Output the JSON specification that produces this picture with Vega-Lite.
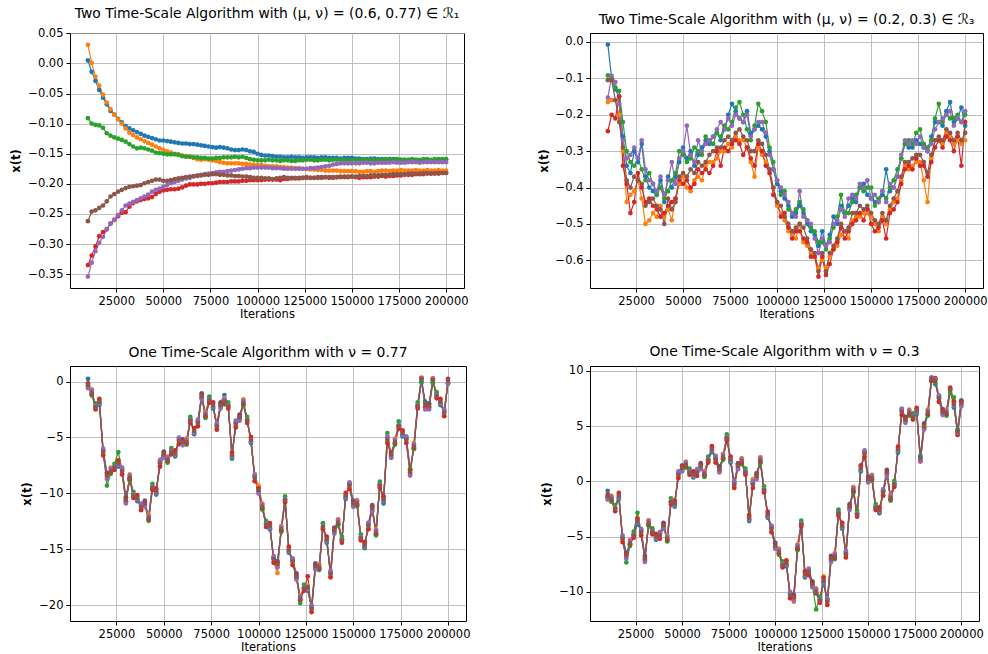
{
"$schema": "https://vega.github.io/schema/vega-lite/v6.json",
"padding": {"left": 10, "top": 6, "right": 2, "bottom": 0},
"bounds": "flush",
"columns": 2,
"spacing": {"row": 78, "column": 124},
"config": {
  "font": "DejaVu Sans",
  "view": {"stroke": "#000", "strokeWidth": 1},
  "axis": {"grid": true, "domain": false, "tickColor": "#000", "tickSize": 4, "labelPadding": 3, "labelFontSize": 11.5, "titleFontSize": 11.5, "labelColor": "#000", "titleColor": "#000", "gridColor": "#b0b0b0", "gridWidth": 0.8, "labelFont": "DejaVu Sans", "titleFont": "DejaVu Sans", "titleFontWeight": "normal", "labelOverlap": false},
  "axisX": {"titlePadding": 2},
  "axisY": {"titleFontWeight": "bold", "titlePadding": 6},
  "title": {"font": "DejaVu Sans", "fontSize": 13.9, "fontWeight": "normal", "color": "#000", "offset": 6}
},
"datasets": {
"tl": [
{"x":10000,"s1":0.005,"s2":0.031,"s3":-0.091,"s4":-0.335,"s5":-0.354,"s6":-0.262},
{"x":12000,"s1":-0.014,"s2":0.001,"s3":-0.100,"s4":-0.319,"s5":-0.331,"s6":-0.246},
{"x":14000,"s1":-0.029,"s2":-0.022,"s3":-0.102,"s4":-0.304,"s5":-0.312,"s6":-0.244},
{"x":16000,"s1":-0.044,"s2":-0.037,"s3":-0.103,"s4":-0.287,"s5":-0.298,"s6":-0.240},
{"x":18000,"s1":-0.057,"s2":-0.052,"s3":-0.107,"s4":-0.280,"s5":-0.288,"s6":-0.236},
{"x":20000,"s1":-0.068,"s2":-0.065,"s3":-0.116,"s4":-0.275,"s5":-0.276,"s6":-0.229},
{"x":22000,"s1":-0.079,"s2":-0.076,"s3":-0.120,"s4":-0.266,"s5":-0.266,"s6":-0.221},
{"x":24000,"s1":-0.085,"s2":-0.085,"s3":-0.123,"s4":-0.260,"s5":-0.260,"s6":-0.217},
{"x":26000,"s1":-0.092,"s2":-0.093,"s3":-0.125,"s4":-0.254,"s5":-0.252,"s6":-0.213},
{"x":28000,"s1":-0.098,"s2":-0.100,"s3":-0.127,"s4":-0.248,"s5":-0.244,"s6":-0.210},
{"x":30000,"s1":-0.104,"s2":-0.108,"s3":-0.130,"s4":-0.247,"s5":-0.236,"s6":-0.207},
{"x":32000,"s1":-0.108,"s2":-0.115,"s3":-0.134,"s4":-0.238,"s5":-0.233,"s6":-0.205},
{"x":34000,"s1":-0.111,"s2":-0.119,"s3":-0.138,"s4":-0.232,"s5":-0.230,"s6":-0.204},
{"x":36000,"s1":-0.114,"s2":-0.123,"s3":-0.141,"s4":-0.229,"s5":-0.227,"s6":-0.203},
{"x":38000,"s1":-0.117,"s2":-0.126,"s3":-0.140,"s4":-0.227,"s5":-0.224,"s6":-0.202},
{"x":40000,"s1":-0.120,"s2":-0.129,"s3":-0.141,"s4":-0.225,"s5":-0.221,"s6":-0.199},
{"x":42000,"s1":-0.122,"s2":-0.132,"s3":-0.143,"s4":-0.224,"s5":-0.218,"s6":-0.197},
{"x":44000,"s1":-0.124,"s2":-0.135,"s3":-0.145,"s4":-0.222,"s5":-0.213,"s6":-0.195},
{"x":46000,"s1":-0.126,"s2":-0.138,"s3":-0.148,"s4":-0.217,"s5":-0.210,"s6":-0.193},
{"x":48000,"s1":-0.128,"s2":-0.141,"s3":-0.149,"s4":-0.213,"s5":-0.208,"s6":-0.193},
{"x":50000,"s1":-0.128,"s2":-0.144,"s3":-0.150,"s4":-0.211,"s5":-0.205,"s6":-0.195},
{"x":52000,"s1":-0.129,"s2":-0.146,"s3":-0.151,"s4":-0.210,"s5":-0.202,"s6":-0.195},
{"x":54000,"s1":-0.130,"s2":-0.148,"s3":-0.151,"s4":-0.209,"s5":-0.199,"s6":-0.194},
{"x":56000,"s1":-0.131,"s2":-0.150,"s3":-0.151,"s4":-0.209,"s5":-0.197,"s6":-0.192},
{"x":58000,"s1":-0.132,"s2":-0.151,"s3":-0.152,"s4":-0.208,"s5":-0.195,"s6":-0.191},
{"x":60000,"s1":-0.133,"s2":-0.153,"s3":-0.154,"s4":-0.206,"s5":-0.193,"s6":-0.190},
{"x":62000,"s1":-0.133,"s2":-0.154,"s3":-0.155,"s4":-0.203,"s5":-0.191,"s6":-0.189},
{"x":64000,"s1":-0.134,"s2":-0.155,"s3":-0.155,"s4":-0.201,"s5":-0.190,"s6":-0.188},
{"x":66000,"s1":-0.134,"s2":-0.157,"s3":-0.156,"s4":-0.201,"s5":-0.188,"s6":-0.187},
{"x":68000,"s1":-0.135,"s2":-0.159,"s3":-0.156,"s4":-0.201,"s5":-0.186,"s6":-0.187},
{"x":70000,"s1":-0.136,"s2":-0.160,"s3":-0.157,"s4":-0.200,"s5":-0.185,"s6":-0.186},
{"x":72000,"s1":-0.137,"s2":-0.159,"s3":-0.157,"s4":-0.200,"s5":-0.184,"s6":-0.185},
{"x":74000,"s1":-0.138,"s2":-0.160,"s3":-0.158,"s4":-0.199,"s5":-0.183,"s6":-0.185},
{"x":76000,"s1":-0.139,"s2":-0.161,"s3":-0.158,"s4":-0.199,"s5":-0.182,"s6":-0.184},
{"x":78000,"s1":-0.140,"s2":-0.162,"s3":-0.157,"s4":-0.198,"s5":-0.181,"s6":-0.184},
{"x":80000,"s1":-0.139,"s2":-0.164,"s3":-0.157,"s4":-0.197,"s5":-0.180,"s6":-0.185},
{"x":82000,"s1":-0.140,"s2":-0.165,"s3":-0.156,"s4":-0.197,"s5":-0.180,"s6":-0.185},
{"x":84000,"s1":-0.141,"s2":-0.166,"s3":-0.156,"s4":-0.197,"s5":-0.179,"s6":-0.186},
{"x":86000,"s1":-0.143,"s2":-0.166,"s3":-0.156,"s4":-0.196,"s5":-0.178,"s6":-0.186},
{"x":88000,"s1":-0.144,"s2":-0.166,"s3":-0.155,"s4":-0.196,"s5":-0.177,"s6":-0.187},
{"x":90000,"s1":-0.144,"s2":-0.166,"s3":-0.156,"s4":-0.196,"s5":-0.176,"s6":-0.187},
{"x":92000,"s1":-0.143,"s2":-0.167,"s3":-0.155,"s4":-0.195,"s5":-0.175,"s6":-0.188},
{"x":94000,"s1":-0.144,"s2":-0.167,"s3":-0.157,"s4":-0.195,"s5":-0.174,"s6":-0.188},
{"x":96000,"s1":-0.146,"s2":-0.168,"s3":-0.159,"s4":-0.194,"s5":-0.174,"s6":-0.189},
{"x":98000,"s1":-0.147,"s2":-0.168,"s3":-0.160,"s4":-0.194,"s5":-0.173,"s6":-0.190},
{"x":100000,"s1":-0.150,"s2":-0.169,"s3":-0.161,"s4":-0.194,"s5":-0.173,"s6":-0.190},
{"x":102000,"s1":-0.152,"s2":-0.169,"s3":-0.161,"s4":-0.194,"s5":-0.173,"s6":-0.190},
{"x":104000,"s1":-0.153,"s2":-0.170,"s3":-0.161,"s4":-0.193,"s5":-0.173,"s6":-0.191},
{"x":106000,"s1":-0.153,"s2":-0.171,"s3":-0.160,"s4":-0.193,"s5":-0.173,"s6":-0.191},
{"x":108000,"s1":-0.154,"s2":-0.171,"s3":-0.161,"s4":-0.193,"s5":-0.174,"s6":-0.192},
{"x":110000,"s1":-0.155,"s2":-0.171,"s3":-0.161,"s4":-0.193,"s5":-0.174,"s6":-0.191},
{"x":112000,"s1":-0.155,"s2":-0.172,"s3":-0.162,"s4":-0.194,"s5":-0.174,"s6":-0.190},
{"x":114000,"s1":-0.156,"s2":-0.172,"s3":-0.161,"s4":-0.192,"s5":-0.175,"s6":-0.189},
{"x":116000,"s1":-0.156,"s2":-0.173,"s3":-0.161,"s4":-0.192,"s5":-0.175,"s6":-0.190},
{"x":118000,"s1":-0.155,"s2":-0.173,"s3":-0.162,"s4":-0.191,"s5":-0.175,"s6":-0.190},
{"x":120000,"s1":-0.156,"s2":-0.174,"s3":-0.162,"s4":-0.191,"s5":-0.175,"s6":-0.190},
{"x":122000,"s1":-0.156,"s2":-0.174,"s3":-0.161,"s4":-0.191,"s5":-0.175,"s6":-0.190},
{"x":124000,"s1":-0.157,"s2":-0.175,"s3":-0.161,"s4":-0.190,"s5":-0.175,"s6":-0.190},
{"x":126000,"s1":-0.156,"s2":-0.175,"s3":-0.160,"s4":-0.190,"s5":-0.175,"s6":-0.189},
{"x":128000,"s1":-0.156,"s2":-0.176,"s3":-0.160,"s4":-0.190,"s5":-0.174,"s6":-0.190},
{"x":130000,"s1":-0.156,"s2":-0.176,"s3":-0.161,"s4":-0.190,"s5":-0.174,"s6":-0.190},
{"x":132000,"s1":-0.157,"s2":-0.177,"s3":-0.161,"s4":-0.190,"s5":-0.173,"s6":-0.189},
{"x":134000,"s1":-0.156,"s2":-0.177,"s3":-0.160,"s4":-0.190,"s5":-0.172,"s6":-0.189},
{"x":136000,"s1":-0.156,"s2":-0.178,"s3":-0.160,"s4":-0.189,"s5":-0.171,"s6":-0.189},
{"x":138000,"s1":-0.157,"s2":-0.178,"s3":-0.161,"s4":-0.190,"s5":-0.170,"s6":-0.189},
{"x":140000,"s1":-0.157,"s2":-0.178,"s3":-0.160,"s4":-0.190,"s5":-0.168,"s6":-0.189},
{"x":142000,"s1":-0.157,"s2":-0.178,"s3":-0.160,"s4":-0.189,"s5":-0.167,"s6":-0.189},
{"x":144000,"s1":-0.158,"s2":-0.179,"s3":-0.160,"s4":-0.189,"s5":-0.166,"s6":-0.188},
{"x":146000,"s1":-0.157,"s2":-0.179,"s3":-0.161,"s4":-0.189,"s5":-0.166,"s6":-0.188},
{"x":148000,"s1":-0.157,"s2":-0.179,"s3":-0.161,"s4":-0.189,"s5":-0.166,"s6":-0.188},
{"x":150000,"s1":-0.157,"s2":-0.179,"s3":-0.160,"s4":-0.188,"s5":-0.166,"s6":-0.188},
{"x":152000,"s1":-0.158,"s2":-0.179,"s3":-0.160,"s4":-0.189,"s5":-0.166,"s6":-0.188},
{"x":154000,"s1":-0.158,"s2":-0.180,"s3":-0.161,"s4":-0.190,"s5":-0.166,"s6":-0.187},
{"x":156000,"s1":-0.159,"s2":-0.180,"s3":-0.160,"s4":-0.189,"s5":-0.165,"s6":-0.187},
{"x":158000,"s1":-0.159,"s2":-0.179,"s3":-0.160,"s4":-0.189,"s5":-0.165,"s6":-0.187},
{"x":160000,"s1":-0.158,"s2":-0.179,"s3":-0.160,"s4":-0.189,"s5":-0.166,"s6":-0.186},
{"x":162000,"s1":-0.158,"s2":-0.180,"s3":-0.161,"s4":-0.188,"s5":-0.166,"s6":-0.186},
{"x":164000,"s1":-0.159,"s2":-0.179,"s3":-0.160,"s4":-0.188,"s5":-0.165,"s6":-0.186},
{"x":166000,"s1":-0.159,"s2":-0.178,"s3":-0.160,"s4":-0.187,"s5":-0.165,"s6":-0.185},
{"x":168000,"s1":-0.160,"s2":-0.178,"s3":-0.159,"s4":-0.188,"s5":-0.165,"s6":-0.185},
{"x":170000,"s1":-0.159,"s2":-0.179,"s3":-0.160,"s4":-0.187,"s5":-0.165,"s6":-0.185},
{"x":172000,"s1":-0.159,"s2":-0.178,"s3":-0.160,"s4":-0.187,"s5":-0.164,"s6":-0.184},
{"x":174000,"s1":-0.159,"s2":-0.178,"s3":-0.159,"s4":-0.186,"s5":-0.165,"s6":-0.184},
{"x":176000,"s1":-0.160,"s2":-0.177,"s3":-0.160,"s4":-0.186,"s5":-0.165,"s6":-0.184},
{"x":178000,"s1":-0.160,"s2":-0.178,"s3":-0.160,"s4":-0.185,"s5":-0.165,"s6":-0.184},
{"x":180000,"s1":-0.160,"s2":-0.178,"s3":-0.160,"s4":-0.185,"s5":-0.164,"s6":-0.183},
{"x":182000,"s1":-0.160,"s2":-0.178,"s3":-0.159,"s4":-0.185,"s5":-0.164,"s6":-0.183},
{"x":184000,"s1":-0.160,"s2":-0.177,"s3":-0.160,"s4":-0.184,"s5":-0.164,"s6":-0.183},
{"x":186000,"s1":-0.161,"s2":-0.178,"s3":-0.160,"s4":-0.184,"s5":-0.165,"s6":-0.183},
{"x":188000,"s1":-0.160,"s2":-0.178,"s3":-0.159,"s4":-0.184,"s5":-0.164,"s6":-0.182},
{"x":190000,"s1":-0.160,"s2":-0.177,"s3":-0.159,"s4":-0.183,"s5":-0.164,"s6":-0.182},
{"x":192000,"s1":-0.161,"s2":-0.178,"s3":-0.160,"s4":-0.183,"s5":-0.164,"s6":-0.183},
{"x":194000,"s1":-0.161,"s2":-0.178,"s3":-0.159,"s4":-0.183,"s5":-0.164,"s6":-0.182},
{"x":196000,"s1":-0.160,"s2":-0.177,"s3":-0.159,"s4":-0.183,"s5":-0.164,"s6":-0.182},
{"x":198000,"s1":-0.160,"s2":-0.178,"s3":-0.159,"s4":-0.182,"s5":-0.164,"s6":-0.182},
{"x":200000,"s1":-0.160,"s2":-0.178,"s3":-0.159,"s4":-0.182,"s5":-0.164,"s6":-0.182}
],
"tr": [
{"x":10000,"s1":-0.007,"s2":-0.165,"s3":-0.092,"s4":-0.245,"s5":-0.153,"s6":-0.105},
{"x":12000,"s1":-0.10,"s2":-0.16,"s3":-0.10,"s4":-0.20,"s5":-0.093,"s6":-0.105},
{"x":14000,"s1":-0.13,"s2":-0.16,"s3":-0.125,"s4":-0.21,"s5":-0.11,"s6":-0.16},
{"x":16000,"s1":-0.15,"s2":-0.20,"s3":-0.135,"s4":-0.15,"s5":-0.17,"s6":-0.22},
{"x":18000,"s1":-0.26,"s2":-0.30,"s3":-0.22,"s4":-0.34,"s5":-0.27,"s6":-0.29},
{"x":20000,"s1":-0.34,"s2":-0.44,"s3":-0.30,"s4":-0.39,"s5":-0.32,"s6":-0.38},
{"x":22000,"s1":-0.36,"s2":-0.42,"s3":-0.33,"s4":-0.47,"s5":-0.31,"s6":-0.40},
{"x":24000,"s1":-0.30,"s2":-0.41,"s3":-0.34,"s4":-0.44,"s5":-0.29,"s6":-0.37},
{"x":26000,"s1":-0.33,"s2":-0.38,"s3":-0.32,"s4":-0.36,"s5":-0.32,"s6":-0.38},
{"x":28000,"s1":-0.28,"s2":-0.43,"s3":-0.35,"s4":-0.40,"s5":-0.27,"s6":-0.39},
{"x":30000,"s1":-0.37,"s2":-0.50,"s3":-0.38,"s4":-0.44,"s5":-0.35,"s6":-0.45},
{"x":32000,"s1":-0.40,"s2":-0.49,"s3":-0.36,"s4":-0.43,"s5":-0.38,"s6":-0.44},
{"x":34000,"s1":-0.41,"s2":-0.47,"s3":-0.39,"s4":-0.45,"s5":-0.39,"s6":-0.43},
{"x":36000,"s1":-0.42,"s2":-0.48,"s3":-0.42,"s4":-0.46,"s5":-0.41,"s6":-0.45},
{"x":38000,"s1":-0.38,"s2":-0.45,"s3":-0.40,"s4":-0.48,"s5":-0.37,"s6":-0.46},
{"x":40000,"s1":-0.44,"s2":-0.48,"s3":-0.43,"s4":-0.47,"s5":-0.42,"s6":-0.50},
{"x":42000,"s1":-0.37,"s2":-0.46,"s3":-0.41,"s4":-0.45,"s5":-0.38,"s6":-0.43},
{"x":44000,"s1":-0.40,"s2":-0.49,"s3":-0.38,"s4":-0.44,"s5":-0.33,"s6":-0.46},
{"x":46000,"s1":-0.37,"s2":-0.43,"s3":-0.36,"s4":-0.43,"s5":-0.39,"s6":-0.44},
{"x":48000,"s1":-0.33,"s2":-0.39,"s3":-0.30,"s4":-0.38,"s5":-0.32,"s6":-0.37},
{"x":50000,"s1":-0.29,"s2":-0.37,"s3":-0.31,"s4":-0.39,"s5":-0.30,"s6":-0.36},
{"x":52000,"s1":-0.32,"s2":-0.40,"s3":-0.33,"s4":-0.38,"s5":-0.23,"s6":-0.37},
{"x":54000,"s1":-0.30,"s2":-0.41,"s3":-0.32,"s4":-0.40,"s5":-0.31,"s6":-0.35},
{"x":56000,"s1":-0.34,"s2":-0.38,"s3":-0.29,"s4":-0.39,"s5":-0.33,"s6":-0.36},
{"x":58000,"s1":-0.31,"s2":-0.37,"s3":-0.30,"s4":-0.35,"s5":-0.27,"s6":-0.33},
{"x":60000,"s1":-0.29,"s2":-0.38,"s3":-0.31,"s4":-0.36,"s5":-0.30,"s6":-0.34},
{"x":62000,"s1":-0.27,"s2":-0.34,"s3":-0.26,"s4":-0.35,"s5":-0.28,"s6":-0.33},
{"x":64000,"s1":-0.28,"s2":-0.33,"s3":-0.27,"s4":-0.36,"s5":-0.27,"s6":-0.31},
{"x":66000,"s1":-0.26,"s2":-0.33,"s3":-0.28,"s4":-0.34,"s5":-0.26,"s6":-0.30},
{"x":68000,"s1":-0.25,"s2":-0.32,"s3":-0.25,"s4":-0.30,"s5":-0.24,"s6":-0.29},
{"x":70000,"s1":-0.27,"s2":-0.30,"s3":-0.26,"s4":-0.34,"s5":-0.22,"s6":-0.29},
{"x":72000,"s1":-0.24,"s2":-0.30,"s3":-0.23,"s4":-0.29,"s5":-0.24,"s6":-0.27},
{"x":74000,"s1":-0.20,"s2":-0.28,"s3":-0.24,"s4":-0.30,"s5":-0.21,"s6":-0.26},
{"x":76000,"s1":-0.17,"s2":-0.29,"s3":-0.22,"s4":-0.28,"s5":-0.23,"s6":-0.27},
{"x":78000,"s1":-0.19,"s2":-0.26,"s3":-0.18,"s4":-0.27,"s5":-0.20,"s6":-0.25},
{"x":80000,"s1":-0.21,"s2":-0.27,"s3":-0.165,"s4":-0.28,"s5":-0.21,"s6":-0.24},
{"x":82000,"s1":-0.22,"s2":-0.27,"s3":-0.20,"s4":-0.31,"s5":-0.22,"s6":-0.26},
{"x":84000,"s1":-0.19,"s2":-0.29,"s3":-0.24,"s4":-0.29,"s5":-0.20,"s6":-0.27},
{"x":86000,"s1":-0.25,"s2":-0.33,"s3":-0.27,"s4":-0.32,"s5":-0.26,"s6":-0.30},
{"x":88000,"s1":-0.24,"s2":-0.37,"s3":-0.23,"s4":-0.34,"s5":-0.24,"s6":-0.30},
{"x":90000,"s1":-0.23,"s2":-0.29,"s3":-0.17,"s4":-0.28,"s5":-0.22,"s6":-0.27},
{"x":92000,"s1":-0.24,"s2":-0.31,"s3":-0.19,"s4":-0.30,"s5":-0.22,"s6":-0.28},
{"x":94000,"s1":-0.26,"s2":-0.33,"s3":-0.22,"s4":-0.34,"s5":-0.25,"s6":-0.31},
{"x":96000,"s1":-0.30,"s2":-0.36,"s3":-0.29,"s4":-0.36,"s5":-0.31,"s6":-0.35},
{"x":98000,"s1":-0.35,"s2":-0.40,"s3":-0.33,"s4":-0.42,"s5":-0.35,"s6":-0.40},
{"x":100000,"s1":-0.39,"s2":-0.45,"s3":-0.38,"s4":-0.44,"s5":-0.38,"s6":-0.44},
{"x":102000,"s1":-0.41,"s2":-0.47,"s3":-0.42,"s4":-0.48,"s5":-0.40,"s6":-0.45},
{"x":104000,"s1":-0.43,"s2":-0.49,"s3":-0.41,"s4":-0.47,"s5":-0.42,"s6":-0.48},
{"x":106000,"s1":-0.45,"s2":-0.52,"s3":-0.46,"s4":-0.51,"s5":-0.44,"s6":-0.50},
{"x":108000,"s1":-0.48,"s2":-0.53,"s3":-0.47,"s4":-0.54,"s5":-0.47,"s6":-0.52},
{"x":110000,"s1":-0.47,"s2":-0.54,"s3":-0.46,"s4":-0.52,"s5":-0.48,"s6":-0.51},
{"x":112000,"s1":-0.45,"s2":-0.50,"s3":-0.44,"s4":-0.52,"s5":-0.41,"s6":-0.50},
{"x":114000,"s1":-0.47,"s2":-0.55,"s3":-0.46,"s4":-0.54,"s5":-0.48,"s6":-0.51},
{"x":116000,"s1":-0.50,"s2":-0.56,"s3":-0.49,"s4":-0.55,"s5":-0.49,"s6":-0.54},
{"x":118000,"s1":-0.52,"s2":-0.58,"s3":-0.51,"s4":-0.59,"s5":-0.50,"s6":-0.57},
{"x":120000,"s1":-0.53,"s2":-0.59,"s3":-0.52,"s4":-0.59,"s5":-0.54,"s6":-0.58},
{"x":122000,"s1":-0.56,"s2":-0.62,"s3":-0.55,"s4":-0.645,"s5":-0.58,"s6":-0.63},
{"x":124000,"s1":-0.52,"s2":-0.60,"s3":-0.55,"s4":-0.59,"s5":-0.54,"s6":-0.58},
{"x":126000,"s1":-0.56,"s2":-0.62,"s3":-0.57,"s4":-0.64,"s5":-0.56,"s6":-0.63},
{"x":128000,"s1":-0.53,"s2":-0.59,"s3":-0.54,"s4":-0.61,"s5":-0.55,"s6":-0.58},
{"x":130000,"s1":-0.48,"s2":-0.57,"s3":-0.51,"s4":-0.57,"s5":-0.50,"s6":-0.56},
{"x":132000,"s1":-0.50,"s2":-0.56,"s3":-0.48,"s4":-0.55,"s5":-0.49,"s6":-0.54},
{"x":134000,"s1":-0.45,"s2":-0.53,"s3":-0.42,"s4":-0.51,"s5":-0.46,"s6":-0.50},
{"x":136000,"s1":-0.47,"s2":-0.52,"s3":-0.47,"s4":-0.54,"s5":-0.48,"s6":-0.52},
{"x":138000,"s1":-0.45,"s2":-0.54,"s3":-0.47,"s4":-0.52,"s5":-0.43,"s6":-0.51},
{"x":140000,"s1":-0.43,"s2":-0.49,"s3":-0.44,"s4":-0.50,"s5":-0.42,"s6":-0.47},
{"x":142000,"s1":-0.44,"s2":-0.48,"s3":-0.42,"s4":-0.49,"s5":-0.43,"s6":-0.47},
{"x":144000,"s1":-0.40,"s2":-0.48,"s3":-0.40,"s4":-0.47,"s5":-0.39,"s6":-0.45},
{"x":146000,"s1":-0.39,"s2":-0.47,"s3":-0.41,"s4":-0.49,"s5":-0.40,"s6":-0.46},
{"x":148000,"s1":-0.42,"s2":-0.47,"s3":-0.40,"s4":-0.46,"s5":-0.38,"s6":-0.45},
{"x":150000,"s1":-0.43,"s2":-0.48,"s3":-0.40,"s4":-0.50,"s5":-0.43,"s6":-0.47},
{"x":152000,"s1":-0.44,"s2":-0.50,"s3":-0.45,"s4":-0.52,"s5":-0.42,"s6":-0.49},
{"x":154000,"s1":-0.44,"s2":-0.52,"s3":-0.43,"s4":-0.51,"s5":-0.44,"s6":-0.50},
{"x":156000,"s1":-0.42,"s2":-0.48,"s3":-0.41,"s4":-0.49,"s5":-0.41,"s6":-0.47},
{"x":158000,"s1":-0.35,"s2":-0.50,"s3":-0.43,"s4":-0.54,"s5":-0.44,"s6":-0.49},
{"x":160000,"s1":-0.41,"s2":-0.46,"s3":-0.40,"s4":-0.47,"s5":-0.39,"s6":-0.45},
{"x":162000,"s1":-0.40,"s2":-0.44,"s3":-0.38,"s4":-0.46,"s5":-0.40,"s6":-0.43},
{"x":164000,"s1":-0.37,"s2":-0.43,"s3":-0.35,"s4":-0.44,"s5":-0.37,"s6":-0.41},
{"x":166000,"s1":-0.32,"s2":-0.38,"s3":-0.32,"s4":-0.39,"s5":-0.31,"s6":-0.37},
{"x":168000,"s1":-0.28,"s2":-0.34,"s3":-0.28,"s4":-0.35,"s5":-0.27,"s6":-0.33},
{"x":170000,"s1":-0.29,"s2":-0.35,"s3":-0.27,"s4":-0.34,"s5":-0.28,"s6":-0.33},
{"x":172000,"s1":-0.29,"s2":-0.34,"s3":-0.28,"s4":-0.35,"s5":-0.27,"s6":-0.32},
{"x":174000,"s1":-0.27,"s2":-0.33,"s3":-0.25,"s4":-0.32,"s5":-0.28,"s6":-0.31},
{"x":176000,"s1":-0.28,"s2":-0.33,"s3":-0.24,"s4":-0.34,"s5":-0.26,"s6":-0.31},
{"x":178000,"s1":-0.29,"s2":-0.38,"s3":-0.28,"s4":-0.34,"s5":-0.29,"s6":-0.33},
{"x":180000,"s1":-0.30,"s2":-0.44,"s3":-0.29,"s4":-0.37,"s5":-0.30,"s6":-0.36},
{"x":182000,"s1":-0.26,"s2":-0.32,"s3":-0.27,"s4":-0.33,"s5":-0.28,"s6":-0.31},
{"x":184000,"s1":-0.22,"s2":-0.27,"s3":-0.21,"s4":-0.29,"s5":-0.24,"s6":-0.27},
{"x":186000,"s1":-0.22,"s2":-0.27,"s3":-0.17,"s4":-0.27,"s5":-0.22,"s6":-0.26},
{"x":188000,"s1":-0.23,"s2":-0.28,"s3":-0.22,"s4":-0.29,"s5":-0.21,"s6":-0.27},
{"x":190000,"s1":-0.19,"s2":-0.25,"s3":-0.20,"s4":-0.26,"s5":-0.20,"s6":-0.24},
{"x":192000,"s1":-0.165,"s2":-0.26,"s3":-0.21,"s4":-0.27,"s5":-0.19,"s6":-0.25},
{"x":194000,"s1":-0.22,"s2":-0.28,"s3":-0.21,"s4":-0.30,"s5":-0.23,"s6":-0.27},
{"x":196000,"s1":-0.21,"s2":-0.27,"s3":-0.20,"s4":-0.26,"s5":-0.21,"s6":-0.25},
{"x":198000,"s1":-0.18,"s2":-0.28,"s3":-0.22,"s4":-0.34,"s5":-0.22,"s6":-0.27},
{"x":200000,"s1":-0.23,"s2":-0.27,"s3":-0.20,"s4":-0.22,"s5":-0.19,"s6":-0.25}
],
"bl": [
{"x":10000,"s1":0.24,"s2":-0.50,"s3":-0.40,"s4":-0.15,"s5":-0.60,"s6":-0.30},
{"x":12000,"s1":-1.15,"s2":-0.70,"s3":-1.25,"s4":-1.10,"s5":-0.80,"s6":-1.0},
{"x":14000,"s1":-2.20,"s2":-2.40,"s3":-1.95,"s4":-2.50,"s5":-2.20,"s6":-2.3},
{"x":16000,"s1":-2.10,"s2":-1.65,"s3":-2.00,"s4":-1.55,"s5":-1.95,"s6":-1.8},
{"x":18000,"s1":-6.10,"s2":-6.55,"s3":-6.20,"s4":-6.60,"s5":-6.00,"s6":-6.3},
{"x":20000,"s1":-8.15,"s2":-8.60,"s3":-9.30,"s4":-8.25,"s5":-8.70,"s6":-8.4},
{"x":22000,"s1":-8.15,"s2":-7.70,"s3":-8.25,"s4":-8.10,"s5":-7.80,"s6":-8.0},
{"x":24000,"s1":-7.60,"s2":-7.80,"s3":-7.35,"s4":-7.90,"s5":-7.60,"s6":-7.7},
{"x":26000,"s1":-7.60,"s2":-7.15,"s3":-6.30,"s4":-7.05,"s5":-7.45,"s6":-7.3},
{"x":28000,"s1":-7.80,"s2":-8.25,"s3":-7.90,"s4":-8.30,"s5":-7.70,"s6":-8.0},
{"x":30000,"s1":-10.35,"s2":-10.80,"s3":-10.70,"s4":-10.45,"s5":-10.90,"s6":-10.6},
{"x":32000,"s1":-8.75,"s2":-8.30,"s3":-8.85,"s4":-8.70,"s5":-8.40,"s6":-8.6},
{"x":34000,"s1":-10.10,"s2":-10.30,"s3":-9.85,"s4":-10.40,"s5":-10.10,"s6":-10.2},
{"x":36000,"s1":-10.70,"s2":-10.25,"s3":-10.60,"s4":-10.15,"s5":-10.55,"s6":-10.4},
{"x":38000,"s1":-11.00,"s2":-11.45,"s3":-11.10,"s4":-11.50,"s5":-10.90,"s6":-11.2},
{"x":40000,"s1":-10.65,"s2":-11.10,"s3":-11.00,"s4":-10.75,"s5":-11.20,"s6":-10.9},
{"x":42000,"s1":-12.35,"s2":-11.90,"s3":-12.45,"s4":-12.30,"s5":-12.00,"s6":-12.2},
{"x":44000,"s1":-9.40,"s2":-9.60,"s3":-9.15,"s4":-9.70,"s5":-9.40,"s6":-9.5},
{"x":46000,"s1":-10.10,"s2":-9.65,"s3":-10.00,"s4":-9.55,"s5":-9.95,"s6":-9.8},
{"x":48000,"s1":-7.10,"s2":-7.55,"s3":-7.20,"s4":-7.60,"s5":-7.00,"s6":-7.3},
{"x":50000,"s1":-6.25,"s2":-6.70,"s3":-6.60,"s4":-6.35,"s5":-6.80,"s6":-6.5},
{"x":52000,"s1":-7.15,"s2":-6.70,"s3":-7.25,"s4":-7.10,"s5":-6.80,"s6":-7.0},
{"x":54000,"s1":-6.20,"s2":-6.40,"s3":-5.95,"s4":-6.50,"s5":-6.20,"s6":-6.3},
{"x":56000,"s1":-6.70,"s2":-6.25,"s3":-6.60,"s4":-6.15,"s5":-6.55,"s6":-6.4},
{"x":58000,"s1":-5.10,"s2":-5.55,"s3":-5.20,"s4":-5.60,"s5":-5.00,"s6":-5.3},
{"x":60000,"s1":-5.15,"s2":-5.60,"s3":-5.50,"s4":-5.25,"s5":-5.70,"s6":-5.4},
{"x":62000,"s1":-5.55,"s2":-5.10,"s3":-5.65,"s4":-5.50,"s5":-5.20,"s6":-5.4},
{"x":64000,"s1":-3.40,"s2":-3.60,"s3":-3.15,"s4":-3.70,"s5":-3.40,"s6":-3.5},
{"x":66000,"s1":-4.70,"s2":-4.25,"s3":-4.60,"s4":-4.15,"s5":-4.55,"s6":-4.4},
{"x":68000,"s1":-3.50,"s2":-3.95,"s3":-3.60,"s4":-4.00,"s5":-3.40,"s6":-3.7},
{"x":70000,"s1":-1.05,"s2":-1.50,"s3":-1.40,"s4":-1.15,"s5":-1.60,"s6":-1.3},
{"x":72000,"s1":-3.15,"s2":-2.70,"s3":-3.25,"s4":-3.10,"s5":-2.80,"s6":-3.0},
{"x":74000,"s1":-1.60,"s2":-1.80,"s3":-1.35,"s4":-1.90,"s5":-1.60,"s6":-1.7},
{"x":76000,"s1":-2.40,"s2":-1.95,"s3":-2.30,"s4":-1.85,"s5":-2.25,"s6":-2.1},
{"x":78000,"s1":-3.80,"s2":-4.25,"s3":-3.90,"s4":-4.30,"s5":-3.70,"s6":-4.0},
{"x":80000,"s1":-1.85,"s2":-2.30,"s3":-2.20,"s4":-1.95,"s5":-2.40,"s6":-2.1},
{"x":82000,"s1":-1.20,"s2":-1.50,"s3":-2.05,"s4":-1.90,"s5":-1.60,"s6":-1.8},
{"x":84000,"s1":-2.10,"s2":-2.30,"s3":-1.85,"s4":-2.40,"s5":-2.10,"s6":-2.2},
{"x":86000,"s1":-6.90,"s2":-6.45,"s3":-6.80,"s4":-6.35,"s5":-6.75,"s6":-6.6},
{"x":88000,"s1":-3.60,"s2":-4.05,"s3":-3.70,"s4":-4.10,"s5":-3.50,"s6":-3.8},
{"x":90000,"s1":-2.95,"s2":-3.40,"s3":-3.30,"s4":-3.05,"s5":-3.50,"s6":-3.2},
{"x":92000,"s1":-2.05,"s2":-1.60,"s3":-2.15,"s4":-2.00,"s5":-1.70,"s6":-1.9},
{"x":94000,"s1":-3.40,"s2":-3.60,"s3":-3.15,"s4":-3.70,"s5":-3.40,"s6":-3.5},
{"x":96000,"s1":-5.50,"s2":-5.05,"s3":-5.40,"s4":-4.95,"s5":-5.35,"s6":-5.2},
{"x":98000,"s1":-8.40,"s2":-8.85,"s3":-8.50,"s4":-8.90,"s5":-8.30,"s6":-8.6},
{"x":100000,"s1":-9.45,"s2":-9.30,"s3":-9.80,"s4":-9.55,"s5":-10.00,"s6":-9.7},
{"x":102000,"s1":-11.35,"s2":-10.90,"s3":-11.45,"s4":-11.30,"s5":-11.00,"s6":-11.2},
{"x":104000,"s1":-12.70,"s2":-12.90,"s3":-12.45,"s4":-13.00,"s5":-12.70,"s6":-12.8},
{"x":106000,"s1":-13.20,"s2":-12.75,"s3":-13.10,"s4":-12.65,"s5":-13.05,"s6":-12.9},
{"x":108000,"s1":-15.70,"s2":-16.15,"s3":-15.80,"s4":-16.20,"s5":-15.60,"s6":-15.9},
{"x":110000,"s1":-16.05,"s2":-17.10,"s3":-16.40,"s4":-16.15,"s5":-16.60,"s6":-16.3},
{"x":112000,"s1":-13.35,"s2":-12.90,"s3":-13.45,"s4":-13.30,"s5":-13.00,"s6":-13.2},
{"x":114000,"s1":-10.50,"s2":-10.70,"s3":-10.25,"s4":-10.80,"s5":-10.50,"s6":-10.6},
{"x":116000,"s1":-15.30,"s2":-14.85,"s3":-15.20,"s4":-14.75,"s5":-15.15,"s6":-15.0},
{"x":118000,"s1":-15.90,"s2":-16.35,"s3":-16.00,"s4":-16.40,"s5":-15.80,"s6":-16.1},
{"x":120000,"s1":-17.15,"s2":-17.60,"s3":-17.50,"s4":-17.25,"s5":-17.70,"s6":-17.4},
{"x":122000,"s1":-19.55,"s2":-19.10,"s3":-19.80,"s4":-19.50,"s5":-19.20,"s6":-19.4},
{"x":124000,"s1":-18.40,"s2":-18.60,"s3":-18.15,"s4":-18.70,"s5":-18.40,"s6":-18.5},
{"x":126000,"s1":-18.70,"s2":-18.25,"s3":-18.60,"s4":-17.40,"s5":-18.55,"s6":-18.4},
{"x":128000,"s1":-20.10,"s2":-20.55,"s3":-20.20,"s4":-20.60,"s5":-20.00,"s6":-20.3},
{"x":130000,"s1":-16.25,"s2":-16.70,"s3":-16.60,"s4":-16.35,"s5":-16.80,"s6":-16.5},
{"x":132000,"s1":-16.75,"s2":-16.30,"s3":-16.85,"s4":-16.70,"s5":-16.40,"s6":-16.6},
{"x":134000,"s1":-12.70,"s2":-13.10,"s3":-12.65,"s4":-13.20,"s5":-12.90,"s6":-13.0},
{"x":136000,"s1":-14.40,"s2":-13.95,"s3":-14.30,"s4":-13.85,"s5":-14.25,"s6":-14.1},
{"x":138000,"s1":-17.00,"s2":-17.45,"s3":-17.10,"s4":-17.50,"s5":-16.90,"s6":-17.2},
{"x":140000,"s1":-13.05,"s2":-13.50,"s3":-13.40,"s4":-13.15,"s5":-13.60,"s6":-13.3},
{"x":142000,"s1":-12.75,"s2":-12.30,"s3":-12.85,"s4":-12.70,"s5":-12.40,"s6":-12.6},
{"x":144000,"s1":-14.10,"s2":-14.30,"s3":-13.85,"s4":-14.40,"s5":-14.10,"s6":-14.2},
{"x":146000,"s1":-10.50,"s2":-10.05,"s3":-10.40,"s4":-9.95,"s5":-10.35,"s6":-10.2},
{"x":148000,"s1":-9.10,"s2":-9.55,"s3":-9.20,"s4":-9.60,"s5":-9.00,"s6":-9.3},
{"x":150000,"s1":-10.65,"s2":-11.10,"s3":-11.00,"s4":-10.75,"s5":-11.20,"s6":-10.9},
{"x":152000,"s1":-11.05,"s2":-10.60,"s3":-11.15,"s4":-11.00,"s5":-10.70,"s6":-10.9},
{"x":154000,"s1":-13.90,"s2":-14.10,"s3":-13.65,"s4":-14.20,"s5":-13.90,"s6":-14.0},
{"x":156000,"s1":-14.90,"s2":-14.45,"s3":-14.80,"s4":-14.35,"s5":-14.75,"s6":-14.6},
{"x":158000,"s1":-12.70,"s2":-13.15,"s3":-12.80,"s4":-13.20,"s5":-12.60,"s6":-12.9},
{"x":160000,"s1":-11.05,"s2":-11.50,"s3":-11.40,"s4":-11.15,"s5":-11.60,"s6":-11.3},
{"x":162000,"s1":-13.65,"s2":-13.20,"s3":-13.75,"s4":-13.60,"s5":-13.30,"s6":-13.5},
{"x":164000,"s1":-9.20,"s2":-9.40,"s3":-8.95,"s4":-9.50,"s5":-9.20,"s6":-9.3},
{"x":166000,"s1":-10.90,"s2":-10.35,"s3":-10.70,"s4":-10.25,"s5":-10.65,"s6":-10.5},
{"x":168000,"s1":-5.00,"s2":-5.45,"s3":-4.60,"s4":-5.50,"s5":-4.90,"s6":-5.2},
{"x":170000,"s1":-6.80,"s2":-6.70,"s3":-6.60,"s4":-6.35,"s5":-6.80,"s6":-6.5},
{"x":172000,"s1":-5.55,"s2":-5.10,"s3":-5.65,"s4":-5.50,"s5":-5.20,"s6":-5.4},
{"x":174000,"s1":-3.90,"s2":-4.10,"s3":-3.55,"s4":-4.20,"s5":-3.90,"s6":-4.0},
{"x":176000,"s1":-4.90,"s2":-4.45,"s3":-4.80,"s4":-4.35,"s5":-4.75,"s6":-4.6},
{"x":178000,"s1":-5.00,"s2":-5.45,"s3":-5.10,"s4":-5.50,"s5":-4.90,"s6":-5.2},
{"x":180000,"s1":-7.85,"s2":-8.30,"s3":-7.80,"s4":-7.95,"s5":-8.40,"s6":-8.1},
{"x":182000,"s1":-5.95,"s2":-5.50,"s3":-6.05,"s4":-5.90,"s5":-5.60,"s6":-5.8},
{"x":184000,"s1":-2.10,"s2":-2.30,"s3":-1.85,"s4":-2.40,"s5":-2.10,"s6":-2.2},
{"x":186000,"s1":-0.10,"s2":0.35,"s3":0.00,"s4":0.30,"s5":0.30,"s6":0.2},
{"x":188000,"s1":-1.80,"s2":-2.25,"s3":-1.90,"s4":-2.30,"s5":-2.50,"s6":-2.0},
{"x":190000,"s1":-1.95,"s2":-2.40,"s3":-2.30,"s4":-2.05,"s5":-2.50,"s6":-2.2},
{"x":192000,"s1":-0.05,"s2":0.30,"s3":-0.15,"s4":0.25,"s5":0.20,"s6":0.1},
{"x":194000,"s1":-1.20,"s2":-1.40,"s3":-0.95,"s4":-1.50,"s5":-1.20,"s6":-1.3},
{"x":196000,"s1":-2.10,"s2":-1.65,"s3":-2.00,"s4":-1.55,"s5":-1.95,"s6":-1.8},
{"x":198000,"s1":-2.60,"s2":-3.05,"s3":-2.70,"s4":-3.10,"s5":-2.50,"s6":-2.8},
{"x":200000,"s1":-0.15,"s2":-0.10,"s3":-0.20,"s4":0.25,"s5":-0.20,"s6":0.1}
],
"br": [
{"x":10000,"s1":-0.85,"s2":-1.55,"s3":-1.45,"s4":-1.20,"s5":-1.65,"s6":-1.35},
{"x":12000,"s1":-1.75,"s2":-1.30,"s3":-1.85,"s4":-1.70,"s5":-1.40,"s6":-1.6},
{"x":14000,"s1":-2.40,"s2":-2.60,"s3":-2.15,"s4":-2.70,"s5":-2.40,"s6":-2.5},
{"x":16000,"s1":-1.60,"s2":-1.15,"s3":-1.50,"s4":-1.05,"s5":-1.45,"s6":-1.3},
{"x":18000,"s1":-5.00,"s2":-5.45,"s3":-5.10,"s4":-5.50,"s5":-4.90,"s6":-5.2},
{"x":20000,"s1":-6.45,"s2":-6.90,"s3":-7.35,"s4":-6.55,"s5":-7.00,"s6":-6.7},
{"x":22000,"s1":-5.75,"s2":-5.30,"s3":-5.85,"s4":-5.70,"s5":-5.40,"s6":-5.6},
{"x":24000,"s1":-4.80,"s2":-5.00,"s3":-4.55,"s4":-5.10,"s5":-4.80,"s6":-4.9},
{"x":26000,"s1":-3.90,"s2":-3.45,"s3":-2.85,"s4":-3.35,"s5":-3.75,"s6":-3.6},
{"x":28000,"s1":-4.40,"s2":-4.85,"s3":-4.50,"s4":-4.90,"s5":-4.30,"s6":-4.6},
{"x":30000,"s1":-6.75,"s2":-7.20,"s3":-7.10,"s4":-6.85,"s5":-7.30,"s6":-7.0},
{"x":32000,"s1":-3.95,"s2":-3.50,"s3":-4.05,"s4":-3.90,"s5":-3.60,"s6":-3.8},
{"x":34000,"s1":-4.50,"s2":-4.70,"s3":-4.25,"s4":-4.80,"s5":-4.50,"s6":-4.6},
{"x":36000,"s1":-5.30,"s2":-4.85,"s3":-5.20,"s4":-4.75,"s5":-5.15,"s6":-5.0},
{"x":38000,"s1":-4.70,"s2":-5.15,"s3":-4.80,"s4":-5.20,"s5":-4.60,"s6":-4.9},
{"x":40000,"s1":-3.75,"s2":-4.20,"s3":-4.10,"s4":-3.85,"s5":-4.30,"s6":-4.0},
{"x":42000,"s1":-5.35,"s2":-4.90,"s3":-5.45,"s4":-5.30,"s5":-5.00,"s6":-5.2},
{"x":44000,"s1":-1.80,"s2":-2.00,"s3":-1.55,"s4":-2.10,"s5":-1.80,"s6":-1.9},
{"x":46000,"s1":-2.30,"s2":-1.85,"s3":-2.20,"s4":-1.75,"s5":-2.15,"s6":-2.0},
{"x":48000,"s1":0.80,"s2":0.35,"s3":0.70,"s4":0.30,"s5":0.90,"s6":0.6},
{"x":50000,"s1":1.45,"s2":1.00,"s3":1.10,"s4":1.35,"s5":0.90,"s6":1.2},
{"x":52000,"s1":1.35,"s2":1.80,"s3":1.25,"s4":1.40,"s5":1.70,"s6":1.5},
{"x":54000,"s1":0.90,"s2":0.70,"s3":1.15,"s4":0.60,"s5":0.90,"s6":0.8},
{"x":56000,"s1":0.35,"s2":0.80,"s3":0.45,"s4":0.90,"s5":0.50,"s6":0.65},
{"x":58000,"s1":1.00,"s2":0.55,"s3":0.90,"s4":0.50,"s5":1.10,"s6":0.8},
{"x":60000,"s1":1.65,"s2":1.20,"s3":1.30,"s4":1.55,"s5":1.10,"s6":1.4},
{"x":62000,"s1":0.50,"s2":0.95,"s3":0.40,"s4":0.55,"s5":0.85,"s6":0.65},
{"x":64000,"s1":2.00,"s2":1.80,"s3":2.25,"s4":1.70,"s5":2.00,"s6":1.9},
{"x":66000,"s1":2.65,"s2":3.10,"s3":2.75,"s4":3.20,"s5":2.80,"s6":2.95},
{"x":68000,"s1":2.20,"s2":1.75,"s3":2.10,"s4":1.70,"s5":2.30,"s6":2.0},
{"x":70000,"s1":1.35,"s2":0.90,"s3":1.00,"s4":1.25,"s5":0.80,"s6":1.1},
{"x":72000,"s1":2.05,"s2":2.50,"s3":1.95,"s4":2.10,"s5":2.40,"s6":2.2},
{"x":74000,"s1":4.00,"s2":3.80,"s3":4.25,"s4":3.70,"s5":4.00,"s6":3.9},
{"x":76000,"s1":1.70,"s2":2.15,"s3":1.80,"s4":2.25,"s5":1.85,"s6":2.0},
{"x":78000,"s1":-0.10,"s2":-0.55,"s3":-0.20,"s4":-0.60,"s5":0.00,"s6":-0.3},
{"x":80000,"s1":1.65,"s2":1.20,"s3":1.30,"s4":1.55,"s5":1.10,"s6":1.4},
{"x":82000,"s1":1.65,"s2":2.10,"s3":1.55,"s4":1.70,"s5":2.00,"s6":1.8},
{"x":84000,"s1":0.90,"s2":0.70,"s3":1.15,"s4":0.60,"s5":0.90,"s6":0.8},
{"x":86000,"s1":-3.60,"s2":-3.15,"s3":-3.50,"s4":-3.05,"s5":-3.45,"s6":-3.3},
{"x":88000,"s1":-0.10,"s2":0.20,"s3":-0.20,"s4":-0.60,"s5":0.00,"s6":-0.3},
{"x":90000,"s1":0.75,"s2":0.30,"s3":0.40,"s4":0.65,"s5":0.20,"s6":0.5},
{"x":92000,"s1":1.75,"s2":2.20,"s3":1.65,"s4":1.80,"s5":2.10,"s6":1.9},
{"x":94000,"s1":-0.70,"s2":-0.90,"s3":-0.45,"s4":-1.00,"s5":-0.70,"s6":-0.8},
{"x":96000,"s1":-3.30,"s2":-2.85,"s3":-3.20,"s4":-2.75,"s5":-3.15,"s6":-3.0},
{"x":98000,"s1":-4.10,"s2":-4.55,"s3":-4.20,"s4":-4.60,"s5":-4.00,"s6":-4.3},
{"x":100000,"s1":-5.55,"s2":-6.00,"s3":-5.90,"s4":-5.65,"s5":-6.10,"s6":-5.8},
{"x":102000,"s1":-6.55,"s2":-6.10,"s3":-6.65,"s4":-6.50,"s5":-6.20,"s6":-6.4},
{"x":104000,"s1":-7.50,"s2":-7.70,"s3":-7.25,"s4":-7.80,"s5":-7.50,"s6":-7.6},
{"x":106000,"s1":-7.70,"s2":-7.25,"s3":-7.60,"s4":-7.15,"s5":-7.55,"s6":-7.4},
{"x":108000,"s1":-10.10,"s2":-10.55,"s3":-10.20,"s4":-10.60,"s5":-10.00,"s6":-10.3},
{"x":110000,"s1":-10.25,"s2":-10.90,"s3":-10.60,"s4":-10.35,"s5":-10.80,"s6":-10.5},
{"x":112000,"s1":-6.15,"s2":-5.70,"s3":-6.25,"s4":-6.10,"s5":-5.80,"s6":-6.0},
{"x":114000,"s1":-3.80,"s2":-4.00,"s3":-3.55,"s4":-4.10,"s5":-3.80,"s6":-3.9},
{"x":116000,"s1":-8.70,"s2":-8.25,"s3":-8.60,"s4":-8.15,"s5":-8.55,"s6":-8.4},
{"x":118000,"s1":-8.00,"s2":-8.45,"s3":-8.10,"s4":-8.50,"s5":-7.90,"s6":-8.2},
{"x":120000,"s1":-9.05,"s2":-9.50,"s3":-9.40,"s4":-9.15,"s5":-9.60,"s6":-9.3},
{"x":122000,"s1":-10.15,"s2":-9.70,"s3":-11.60,"s4":-10.10,"s5":-9.80,"s6":-10.0},
{"x":124000,"s1":-10.70,"s2":-10.90,"s3":-10.45,"s4":-11.00,"s5":-10.70,"s6":-10.8},
{"x":126000,"s1":-9.30,"s2":-8.60,"s3":-9.20,"s4":-8.75,"s5":-9.15,"s6":-9.0},
{"x":128000,"s1":-10.70,"s2":-11.15,"s3":-10.80,"s4":-11.20,"s5":-10.60,"s6":-10.9},
{"x":130000,"s1":-6.75,"s2":-7.20,"s3":-7.10,"s4":-6.85,"s5":-7.30,"s6":-7.0},
{"x":132000,"s1":-6.95,"s2":-6.50,"s3":-7.05,"s4":-6.90,"s5":-6.60,"s6":-6.8},
{"x":134000,"s1":-2.80,"s2":-3.00,"s3":-2.55,"s4":-3.10,"s5":-2.80,"s6":-2.9},
{"x":136000,"s1":-4.30,"s2":-3.85,"s3":-4.20,"s4":-3.75,"s5":-4.15,"s6":-4.0},
{"x":138000,"s1":-6.40,"s2":-6.85,"s3":-6.50,"s4":-6.90,"s5":-6.30,"s6":-6.6},
{"x":140000,"s1":-2.05,"s2":-2.50,"s3":-2.40,"s4":-2.15,"s5":-2.60,"s6":-2.3},
{"x":142000,"s1":-0.95,"s2":-0.50,"s3":-1.05,"s4":-0.90,"s5":-0.60,"s6":-0.8},
{"x":144000,"s1":-2.90,"s2":-3.10,"s3":-2.65,"s4":-3.20,"s5":-2.90,"s6":-3.0},
{"x":146000,"s1":0.90,"s2":1.35,"s3":1.00,"s4":1.45,"s5":1.05,"s6":1.2},
{"x":148000,"s1":2.70,"s2":2.25,"s3":2.60,"s4":2.20,"s5":2.80,"s6":2.5},
{"x":150000,"s1":0.45,"s2":0.00,"s3":0.10,"s4":0.35,"s5":-0.10,"s6":0.2},
{"x":152000,"s1":0.15,"s2":0.60,"s3":0.05,"s4":0.20,"s5":0.50,"s6":0.3},
{"x":154000,"s1":-2.30,"s2":-2.50,"s3":-2.05,"s4":-2.60,"s5":-2.30,"s6":-2.4},
{"x":156000,"s1":-2.90,"s2":-2.45,"s3":-2.80,"s4":-2.35,"s5":-2.75,"s6":-2.6},
{"x":158000,"s1":-0.80,"s2":-1.25,"s3":-0.90,"s4":-1.30,"s5":-0.70,"s6":-1.0},
{"x":160000,"s1":1.05,"s2":0.60,"s3":0.70,"s4":0.95,"s5":0.50,"s6":0.8},
{"x":162000,"s1":-1.65,"s2":-1.20,"s3":-1.75,"s4":-1.60,"s5":-1.30,"s6":-1.5},
{"x":164000,"s1":-0.20,"s2":-0.40,"s3":0.05,"s4":-0.50,"s5":-0.20,"s6":-0.3},
{"x":166000,"s1":2.60,"s2":3.05,"s3":2.70,"s4":3.15,"s5":2.75,"s6":2.9},
{"x":168000,"s1":6.50,"s2":6.05,"s3":6.40,"s4":6.00,"s5":6.60,"s6":6.3},
{"x":170000,"s1":5.85,"s2":5.40,"s3":5.50,"s4":5.75,"s5":5.30,"s6":5.6},
{"x":172000,"s1":6.05,"s2":6.50,"s3":5.95,"s4":6.10,"s5":6.40,"s6":6.2},
{"x":174000,"s1":5.90,"s2":5.70,"s3":6.15,"s4":5.60,"s5":5.90,"s6":5.8},
{"x":176000,"s1":6.10,"s2":6.55,"s3":6.20,"s4":6.65,"s5":6.25,"s6":6.4},
{"x":178000,"s1":2.30,"s2":1.85,"s3":2.20,"s4":1.80,"s5":1.85,"s6":2.1},
{"x":180000,"s1":5.25,"s2":4.80,"s3":4.90,"s4":5.15,"s5":4.70,"s6":5.0},
{"x":182000,"s1":6.05,"s2":6.50,"s3":5.95,"s4":6.10,"s5":6.40,"s6":6.2},
{"x":184000,"s1":9.40,"s2":9.20,"s3":9.10,"s4":9.10,"s5":9.40,"s6":9.3},
{"x":186000,"s1":8.80,"s2":9.25,"s3":8.90,"s4":9.35,"s5":9.25,"s6":9.1},
{"x":188000,"s1":7.70,"s2":7.25,"s3":7.60,"s4":7.20,"s5":7.80,"s6":7.5},
{"x":190000,"s1":6.55,"s2":6.10,"s3":6.20,"s4":6.45,"s5":6.00,"s6":6.3},
{"x":192000,"s1":6.05,"s2":6.50,"s3":5.95,"s4":6.10,"s5":6.40,"s6":6.2},
{"x":194000,"s1":8.40,"s2":8.20,"s3":8.00,"s4":8.50,"s5":8.30,"s6":8.3},
{"x":196000,"s1":6.70,"s2":7.15,"s3":7.60,"s4":7.25,"s5":6.85,"s6":7.0},
{"x":198000,"s1":4.70,"s2":4.25,"s3":4.60,"s4":4.20,"s5":4.40,"s6":4.5},
{"x":200000,"s1":7.35,"s2":6.90,"s3":7.00,"s4":7.25,"s5":6.80,"s6":7.1}
]
},
"concat": [
  {"width": 394, "height": 255,
   "title": "Two Time-Scale Algorithm with (μ, ν) = (0.6, 0.77) ∈ ℛ₁",
   "data": {"name": "tl"},
   "transform": [{"fold": ["s1","s2","s3","s4","s5","s6"], "as": ["k","y"]}],
   "encoding": {
    "x": {"field": "x", "type": "quantitative", "scale": {"domain": [500, 209500], "nice": false, "zero": false}, "axis": {"title": "Iterations", "values": [25000,50000,75000,100000,125000,150000,175000,200000], "format": "d"}},
    "y": {"field": "y", "type": "quantitative", "scale": {"domain": [-0.373, 0.0505], "nice": false, "zero": false}, "axis": {"title": "x(t)", "values": [-0.35,-0.3,-0.25,-0.2,-0.15,-0.1,-0.05,0,0.05], "format": ".2f", "labelExpr": "replace(datum.label, '-', '−')"}},
    "color": {"field": "k", "type": "nominal", "scale": {"domain": ["s1","s2","s3","s4","s5","s6"], "range": ["#1f77b4","#ff7f0e","#2ca02c","#d62728","#9467bd","#8c564b"]}, "legend": null}
   },
   "layer": [
    {"mark": {"type": "line", "strokeWidth": 1.2}},
    {"mark": {"type": "circle", "size": 22, "opacity": 1}, "encoding": {"order": {"field": "k", "type": "ordinal"}}}
   ]
  },
  {"width": 393, "height": 255,
   "title": "Two Time-Scale Algorithm with (μ, ν) = (0.2, 0.3) ∈ ℛ₃",
   "data": {"name": "tr"},
   "transform": [{"fold": ["s1","s2","s3","s4","s5","s6"], "as": ["k","y"]}],
   "encoding": {
    "x": {"field": "x", "type": "quantitative", "scale": {"domain": [500, 209500], "nice": false, "zero": false}, "axis": {"title": "Iterations", "values": [25000,50000,75000,100000,125000,150000,175000,200000], "format": "d"}},
    "y": {"field": "y", "type": "quantitative", "scale": {"domain": [-0.676, 0.0247], "nice": false, "zero": false}, "axis": {"title": "x(t)", "values": [-0.6,-0.5,-0.4,-0.3,-0.2,-0.1,0], "format": ".1f", "labelExpr": "replace(datum.label, '-', '−')"}},
    "color": {"field": "k", "type": "nominal", "scale": {"domain": ["s1","s2","s3","s4","s5","s6"], "range": ["#1f77b4","#ff7f0e","#2ca02c","#d62728","#9467bd","#8c564b"]}, "legend": null}
   },
   "layer": [
    {"mark": {"type": "line", "strokeWidth": 1.2}},
    {"mark": {"type": "circle", "size": 22, "opacity": 1}, "encoding": {"order": {"field": "k", "type": "ordinal"}}}
   ]
  },
  {"width": 396, "height": 255,
   "title": "One Time-Scale Algorithm with ν = 0.77",
   "data": {"name": "bl"},
   "transform": [{"fold": ["s1","s2","s3","s4","s5","s6"], "as": ["k","y"]}],
   "encoding": {
    "x": {"field": "x", "type": "quantitative", "scale": {"domain": [500, 209500], "nice": false, "zero": false}, "axis": {"title": "Iterations", "values": [25000,50000,75000,100000,125000,150000,175000,200000], "format": "d"}},
    "y": {"field": "y", "type": "quantitative", "scale": {"domain": [-21.4, 1.39], "nice": false, "zero": false}, "axis": {"title": "x(t)", "values": [-20,-15,-10,-5,0], "format": "d", "labelExpr": "replace(datum.label, '-', '−')"}},
    "color": {"field": "k", "type": "nominal", "scale": {"domain": ["s1","s2","s3","s4","s5","s6"], "range": ["#1f77b4","#ff7f0e","#2ca02c","#d62728","#9467bd","#8c564b"]}, "legend": null}
   },
   "layer": [
    {"mark": {"type": "line", "strokeWidth": 1.2}},
    {"mark": {"type": "circle", "size": 22, "opacity": 1}, "encoding": {"order": {"field": "k", "type": "ordinal"}}}
   ]
  },
  {"width": 389, "height": 255,
   "title": "One Time-Scale Algorithm with ν = 0.3",
   "data": {"name": "br"},
   "transform": [{"fold": ["s1","s2","s3","s4","s5","s6"], "as": ["k","y"]}],
   "encoding": {
    "x": {"field": "x", "type": "quantitative", "scale": {"domain": [500, 209500], "nice": false, "zero": false}, "axis": {"title": "Iterations", "values": [25000,50000,75000,100000,125000,150000,175000,200000], "format": "d"}},
    "y": {"field": "y", "type": "quantitative", "scale": {"domain": [-12.65, 10.45], "nice": false, "zero": false}, "axis": {"title": "x(t)", "values": [-10,-5,0,5,10], "format": "d", "labelExpr": "replace(datum.label, '-', '−')"}},
    "color": {"field": "k", "type": "nominal", "scale": {"domain": ["s1","s2","s3","s4","s5","s6"], "range": ["#1f77b4","#ff7f0e","#2ca02c","#d62728","#9467bd","#8c564b"]}, "legend": null}
   },
   "layer": [
    {"mark": {"type": "line", "strokeWidth": 1.2}},
    {"mark": {"type": "circle", "size": 22, "opacity": 1}, "encoding": {"order": {"field": "k", "type": "ordinal"}}}
   ]
  }
]
}
